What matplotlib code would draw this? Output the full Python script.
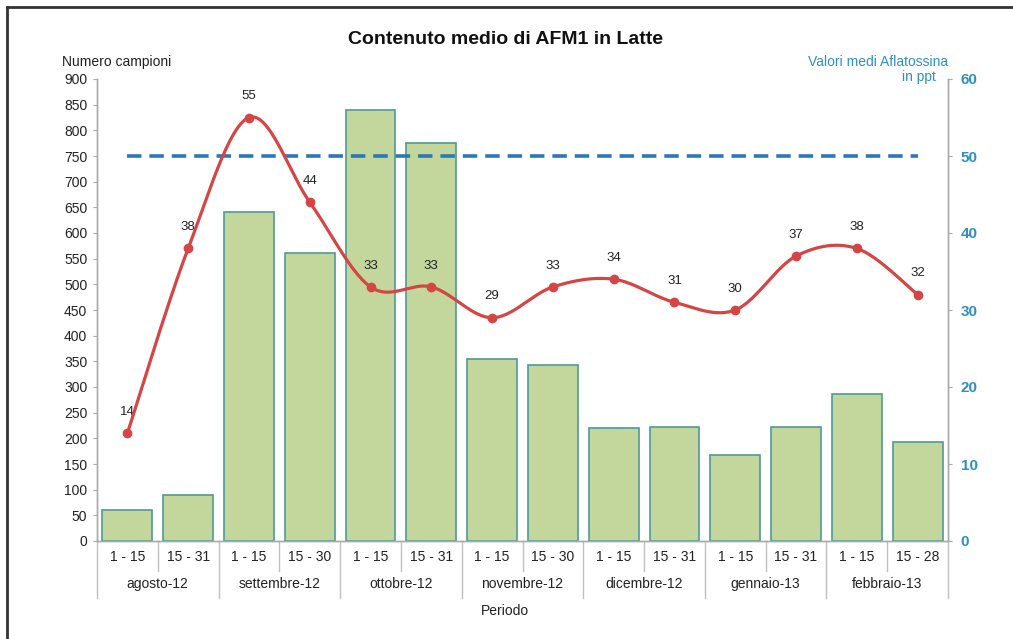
import numpy as np
import matplotlib
matplotlib.use("Agg")
import matplotlib.pyplot as plt
from matplotlib.lines import Line2D

plt.rcParams['font.family'] = ['Liberation Sans', 'DejaVu Sans']

# ---- data ----
periods = ["1 - 15", "15 - 31", "1 - 15", "15 - 30", "1 - 15", "15 - 31", "1 - 15",
           "15 - 30", "1 - 15", "15 - 31", "1 - 15", "15 - 31", "1 - 15", "15 - 28"]
months = ["agosto-12", "settembre-12", "ottobre-12", "novembre-12",
          "dicembre-12", "gennaio-13", "febbraio-13"]
campioni = [60, 90, 640, 562, 840, 776, 355, 342, 220, 222, 168, 222, 286, 193]
aflatossina = [14, 38, 55, 44, 33, 33, 29, 33, 34, 31, 30, 37, 38, 32]
limite = 50

W, H = 1013, 639
fig = plt.figure(figsize=(W / 100, H / 100), dpi=100)
fig.patch.set_facecolor("white")

L, R, B, T = 97, 948, 541, 79
ax = fig.add_axes([L / W, 1 - B / H, (R - L) / W, (B - T) / H])
ax2 = ax.twinx()

x = np.arange(len(campioni))
ax.bar(x, campioni, width=0.82, color="#c3d69b", edgecolor="#4f9a98", linewidth=1.2, zorder=2)
ax.set_xlim(-0.5, len(campioni) - 0.5)
ax.set_ylim(0, 900)
ax.set_yticks(np.arange(0, 901, 50))
ax.tick_params(axis="y", labelsize=10, length=3, width=0.8, direction="out", pad=4,
               color="#aaaaaa", labelcolor="#222222")
ax.set_xticks([])

for a in (ax, ax2):
    a.spines["top"].set_visible(False)
    for s in ["left", "right", "bottom"]:
        a.spines[s].set_color("#aaaaaa")
        a.spines[s].set_linewidth(1.0)

# smooth curve (Catmull-Rom Bezier through the data points)
def smooth(xs, ys, n=30):
    xs = np.asarray(xs, float); ys = np.asarray(ys, float)
    px = np.concatenate([[xs[0]], xs, [xs[-1]]])
    py = np.concatenate([[ys[0]], ys, [ys[-1]]])
    outx, outy = [], []
    t = np.linspace(0, 1, n)
    for i in range(1, len(px) - 2):
        p0 = np.array([px[i], py[i]]); p3 = np.array([px[i + 1], py[i + 1]])
        p1 = p0 + (np.array([px[i + 1], py[i + 1]]) - np.array([px[i - 1], py[i - 1]])) / 6
        p2 = p3 - (np.array([px[i + 2], py[i + 2]]) - np.array([px[i], py[i]])) / 6
        bx = (1 - t) ** 3 * p0[0] + 3 * (1 - t) ** 2 * t * p1[0] + 3 * (1 - t) * t ** 2 * p2[0] + t ** 3 * p3[0]
        by = (1 - t) ** 3 * p0[1] + 3 * (1 - t) ** 2 * t * p1[1] + 3 * (1 - t) * t ** 2 * p2[1] + t ** 3 * p3[1]
        outx.extend(bx); outy.extend(by)
    return outx, outy

sx, sy = smooth(x, aflatossina)
ax2.plot(sx, sy, color="#d64545", lw=2.3, zorder=4)
ax2.plot(x, aflatossina, "o", color="#d64545", ms=6, zorder=5)
ax2.plot([x[0], x[-1]], [limite, limite], color="#2a78b5", lw=2.6, ls=(0, (4, 2.2)), zorder=3)
for xi, v in zip(x, aflatossina):
    ax2.annotate(str(v), (xi, v), xytext=(0, 11), textcoords="offset points",
                 ha="center", va="bottom", fontsize=9.5, color="#222222")

ax2.set_ylim(0, 60)
ax2.set_yticks(np.arange(0, 61, 10))
ax2.tick_params(axis="y", labelsize=11, length=3, width=0.8, color="#aaaaaa", pad=6,
                labelcolor="#2e8fc4")
for lab in ax2.get_yticklabels():
    lab.set_fontweight("bold")
ax2.set_xlim(-0.5, len(campioni) - 0.5)
ax.set_zorder(1); ax2.set_zorder(2); ax2.patch.set_visible(False)

# two-level x axis labels
trans = ax.get_xaxis_transform()
sep_col = "#c0c0c0"
def ypos(py):
    return -(py - B) / (B - T)
for i, p in enumerate(periods):
    ax.text(i, ypos(557), p, transform=trans, ha="center", va="center", fontsize=10, color="#222222")
for i in range(len(periods) + 1):
    xb = i - 0.5
    long_ = (i % 2 == 0)
    ax.add_line(Line2D([xb, xb], [0, ypos(598 if long_ else 571)], transform=trans,
                       color=sep_col, lw=1.0, clip_on=False))
for m, name in enumerate(months):
    ax.text(2 * m + 0.5, ypos(584), name, transform=trans, ha="center", va="center",
            fontsize=10, color="#222222")
fig.text(505 / W, 1 - 611 / H, "Periodo", ha="center", va="center", fontsize=10, color="#222222")

# titles
fig.text(505 / W, 1 - 39 / H, "Contenuto medio di AFM1 in Latte", ha="center", va="center",
         fontsize=14, fontweight="bold", color="#111111")
fig.text(62 / W, 1 - 62 / H, "Numero campioni", ha="left", va="center", fontsize=10, color="#222222")
fig.text(948 / W, 1 - 62 / H, "Valori medi Aflatossina", ha="right", va="center",
         fontsize=10, color="#2e8fc4")
fig.text(919 / W, 1 - 77 / H, "in ppt", ha="center", va="center",
         fontsize=10, color="#2e8fc4")

# frame (left and top border)
fig.add_artist(Line2D([6.5 / W, 6.5 / W], [0, 1 - 6.5 / H], transform=fig.transFigure,
                      color="#333333", lw=2))
fig.add_artist(Line2D([6.5 / W, 1], [1 - 6.5 / H, 1 - 6.5 / H], transform=fig.transFigure,
                      color="#333333", lw=2))

fig.savefig("out.png", dpi=100, facecolor="white")
